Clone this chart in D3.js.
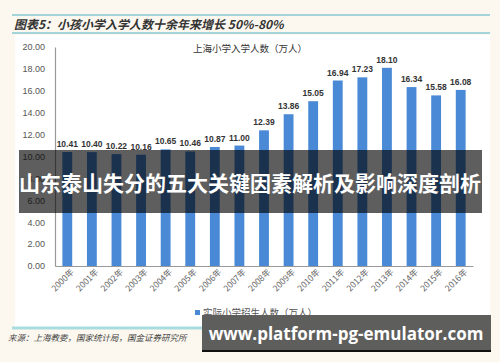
<!DOCTYPE html>
<html>
<head>
<meta charset="utf-8">
<script src="https://cdn.jsdelivr.net/npm/d3@7"></script>
<style>
  body { margin: 0; background: #fcf8ef; }
  svg { display: block; }
</style>
</head>
<body>
<div class="chart"></div>
<script>
// chart data
var years = ['2000年', '2001年', '2002年', '2003年', '2004年', '2005年', '2006年', '2007年', '2008年',
             '2009年', '2010年', '2011年', '2012年', '2013年', '2014年', '2015年', '2016年'];
var enrol = [10.41, 10.40, 10.22, 10.16, 10.65, 10.46, 10.87, 11.00, 12.39,
             13.86, 15.05, 16.94, 17.23, 18.10, 16.34, 15.58, 16.08];
var yTicks = [0, 2, 4, 6, 8, 10, 12, 14, 16, 18, 20];

var cjk = '"Noto Sans CJK SC", sans-serif';
var latin = '"Liberation Sans", Arial, sans-serif';

var svg = d3.select('.chart').append('svg')
    .attr('width', 500)
    .attr('height', 362);

// background + white panel
svg.append('rect').attr('width', 500).attr('height', 362).attr('fill', '#fcf8ef');
svg.append('rect')
    .attr('x', 15).attr('y', 35)
    .attr('width', 475).attr('height', 293)
    .attr('fill', '#ffffff');

// header lines
[15, 33].forEach((yy) => {
    svg.append('line')
        .attr('x1', 12).attr('x2', 490)
        .attr('y1', yy).attr('y2', yy)
        .attr('stroke', '#86c9d3').attr('stroke-width', 1.5);
});
svg.append('line')
    .attr('x1', 12).attr('x2', 490)
    .attr('y1', 328).attr('y2', 328)
    .attr('stroke', '#a9dcdf').attr('stroke-width', 3);

svg.append('text')
    .attr('x', 14).attr('y', 29)
    .attr('font-family', cjk)
    .attr('font-size', 12)
    .attr('font-weight', 'bold')
    .attr('font-style', 'italic')
    .attr('fill', '#333')
    .text('图表5：小孩小学入学人数十余年来增长 50%-80%');

// scales
var x = d3.scaleBand()
    .domain(years)
    .range([55, 473])
    .paddingInner(0.6)
    .paddingOuter(0.3);
var y = d3.scaleLinear()
    .domain([0, 20])
    .range([266, 47]);

// y axis
var yAxis = svg.append('g')
    .attr('transform', 'translate(55,0)')
    .call(d3.axisLeft(y).tickValues(yTicks).tickSize(0).tickPadding(10).tickFormat(d3.format('.2f')));
yAxis.select('.domain').attr('stroke', '#999').attr('stroke-width', 1.2);
yAxis.selectAll('text')
    .attr('font-family', latin)
    .attr('font-size', 9)
    .attr('fill', '#555');

// bars
svg.selectAll('.bar')
    .data(enrol)
    .enter().append('rect')
    .attr('class', 'bar')
    .attr('x', (d, i) => { return x(years[i]); })
    .attr('width', x.bandwidth())
    .attr('y', (d) => { return y(d); })
    .attr('height', (d) => { return y(0) - y(d); })
    .attr('fill', '#4a89d6');

// value labels
svg.selectAll('.val')
    .data(enrol)
    .enter().append('text')
    .attr('class', 'val')
    .attr('x', (d, i) => { return x(years[i]) + x.bandwidth() / 2; })
    .attr('y', (d) => { return y(d) - 5; })
    .attr('text-anchor', 'middle')
    .attr('font-family', latin)
    .attr('font-size', 8.5)
    .attr('font-weight', 'bold')
    .attr('fill', '#333')
    .text((d) => { return d.toFixed(2); });

// x axis
var xAxis = svg.append('g')
    .attr('transform', 'translate(0,266)')
    .call(d3.axisBottom(x).tickSize(0).tickPadding(0));
xAxis.select('.domain').attr('stroke', '#999').attr('stroke-width', 1.2);
xAxis.selectAll('text')
    .attr('font-family', cjk)
    .attr('font-size', 8.5)
    .attr('fill', '#666')
    .style('text-anchor', 'end')
    .attr('dx', '0.3em')
    .attr('dy', '0.4em')
    .attr('transform', 'translate(3,6) rotate(-45)');

// chart title
svg.append('text')
    .attr('x', 250).attr('y', 52)
    .attr('text-anchor', 'middle')
    .attr('font-family', cjk)
    .attr('font-size', 9.5)
    .attr('fill', '#333')
    .text('上海小学入学人数（万人）');

// legend
svg.append('rect')
    .attr('x', 195).attr('y', 310)
    .attr('width', 5).attr('height', 5)
    .attr('fill', '#4a89d6');
svg.append('text')
    .attr('x', 203).attr('y', 316)
    .attr('font-family', cjk)
    .attr('font-size', 9.5)
    .attr('fill', '#555')
    .text('实际小学招生人数（万人）');

// source
svg.append('text')
    .attr('x', 8).attr('y', 341)
    .attr('font-family', cjk)
    .attr('font-size', 8.5)
    .attr('font-style', 'italic')
    .attr('fill', '#444')
    .text('来源：上海教委，国家统计局，国金证券研究所');

// banner overlay
svg.append('rect')
    .attr('x', 19).attr('y', 150)
    .attr('width', 463).attr('height', 63)
    .attr('fill', 'rgba(0,0,0,0.63)');
svg.append('text')
    .attr('x', 250).attr('y', 191)
    .attr('text-anchor', 'middle')
    .attr('font-family', cjk)
    .attr('font-size', 21)
    .attr('font-weight', 'bold')
    .attr('fill', '#ffffff')
    .text('山东泰山失分的五大关键因素解析及影响深度剖析');

// watermark box
svg.append('rect')
    .attr('x', 202).attr('y', 315)
    .attr('width', 289).attr('height', 37)
    .attr('fill', '#5e5e5c');
svg.append('rect')
    .attr('x', 202).attr('y', 350)
    .attr('width', 289).attr('height', 2)
    .attr('fill', '#111');
svg.append('text')
    .attr('x', 346).attr('y', 340)
    .attr('text-anchor', 'middle')
    .attr('font-family', '"Open Sans", sans-serif')
    .attr('font-size', 17)
    .attr('font-weight', 'bold')
    .attr('fill', '#ffffff')
    .text('www.platform-pg-emulator.com');
</script>
</body>
</html>
